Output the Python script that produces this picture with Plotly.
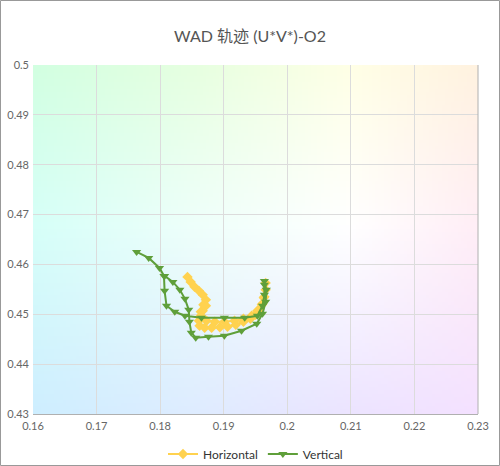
import base64
import struct
import zlib

import numpy as np
import plotly.graph_objects as go

# WAD trajectory
h_u = [0.1843, 0.1848, 0.1854, 0.1861, 0.1867, 0.1872, 0.1872, 0.1867, 0.1864, 0.1861,
       0.1862, 0.1870, 0.1881, 0.1894, 0.1906, 0.1919, 0.1931, 0.1942, 0.1950, 0.1956,
       0.1961, 0.1964, 0.1966, 0.1966, 0.1963, 0.1960, 0.1953, 0.1944, 0.1931, 0.1917,
       0.1901, 0.1886, 0.1873, 0.1865, 0.1864, 0.1868]
h_v = [0.4575, 0.4565, 0.4555, 0.4547, 0.4539, 0.4529, 0.4517, 0.4507, 0.4497, 0.4487,
       0.4477, 0.4473, 0.4473, 0.4474, 0.4475, 0.4479, 0.4485, 0.4491, 0.4499, 0.4509,
       0.4521, 0.4535, 0.4549, 0.4563, 0.4533, 0.4519, 0.4507, 0.4497, 0.4491, 0.4487,
       0.4485, 0.4485, 0.4487, 0.4493, 0.4505, 0.4519]

v_u = [0.1763, 0.1782, 0.1799, 0.1806, 0.1807, 0.1810, 0.1823, 0.1839, 0.1865, 0.1901,
       0.1933, 0.1953, 0.1961, 0.1964, 0.1964, 0.1964, 0.1967, 0.1966, 0.1961, 0.1952,
       0.1928, 0.1901, 0.1876, 0.1856, 0.1849, 0.1846, 0.1845, 0.1839, 0.1831, 0.1820,
       0.1807]
v_v = [0.4625, 0.4613, 0.4593, 0.4577, 0.4547, 0.4517, 0.4505, 0.4497, 0.4493, 0.4493,
       0.4493, 0.4497, 0.4517, 0.4539, 0.4559, 0.4567, 0.4549, 0.4525, 0.4501, 0.4481,
       0.4467, 0.4457, 0.4455, 0.4453, 0.4463, 0.4485, 0.4509, 0.4531, 0.4549, 0.4565,
       0.4577]

x_range = [0.16, 0.23]
y_range = [0.43, 0.5]

W, H = 500, 466
ML, MR, MT, MB = 33, 22, 65, 52


def tinted_background(nx=140, ny=110):
    # pale chromaticity-style tint, bilinear between a few anchor colours
    gx = [0.16, 0.185, 0.21, 0.23]
    gy = [0.5, 0.468, 0.43]
    cols = np.array([
        [[210, 255, 225], [230, 255, 224], [255, 255, 230], [255, 242, 224]],
        [[214, 255, 248], [238, 255, 250], [255, 255, 255], [255, 238, 246]],
        [[206, 238, 255], [222, 236, 255], [236, 228, 255], [244, 225, 255]],
    ], dtype=float)
    u = np.linspace(x_range[0], x_range[1], nx)
    v = np.linspace(y_range[1], y_range[0], ny)
    rows = np.stack([np.stack([np.interp(u, gx, cols[r, :, c]) for c in range(3)], axis=-1)
                     for r in range(len(gy))])
    img = np.stack([np.stack([np.interp(-v, [-g for g in gy], rows[:, i, c]) for c in range(3)],
                             axis=-1) for i in range(nx)], axis=1)
    return img.round().astype(np.uint8)


def png_uri(img):
    h, w, _ = img.shape
    raw = b"".join(b"\x00" + img[r].tobytes() for r in range(h))

    def chunk(tag, data):
        return (struct.pack(">I", len(data)) + tag + data
                + struct.pack(">I", zlib.crc32(tag + data) & 0xffffffff))

    png = (b"\x89PNG\r\n\x1a\n"
           + chunk(b"IHDR", struct.pack(">IIBBBBB", w, h, 8, 2, 0, 0, 0))
           + chunk(b"IDAT", zlib.compress(raw, 9))
           + chunk(b"IEND", b""))
    return "data:image/png;base64," + base64.b64encode(png).decode()


fig = go.Figure()
fig.add_trace(go.Scatter(
    x=h_u, y=h_v, name="Horizontal", mode="lines+markers",
    line=dict(color="#ffd24f", width=2),
    marker=dict(symbol="diamond", size=8, color="#ffd24f"),
))
fig.add_trace(go.Scatter(
    x=v_u, y=v_v, name="Vertical", mode="lines+markers",
    line=dict(color="#5f9f3a", width=2),
    marker=dict(symbol="triangle-down", size=8, color="#5f9f3a"),
))

pw, ph = W - ML - MR, H - MT - MB
fig.update_layout(
    width=W, height=H,
    margin=dict(l=ML, r=MR, t=MT, b=MB, autoexpand=False),
    paper_bgcolor="white", plot_bgcolor="white",
    font=dict(family="Lato, 'Noto Sans CJK SC', sans-serif", color="#666", size=11),
    title=dict(text="WAD 轨迹 (U*V*)-O2", x=0.5, xanchor="center", y=1 - 36 / H, yanchor="middle",
               font=dict(size=16, color="#555")),
    legend=dict(orientation="h", x=0.5, xanchor="center", yref="container", y=(H - 454) / H,
                yanchor="middle", font=dict(size=12, color="#333"), bgcolor="rgba(0,0,0,0)"),
    xaxis=dict(range=x_range, dtick=0.01, tick0=0.16, showgrid=True, gridcolor="#dcdcdc",
               zeroline=False, showline=True, linecolor="#b0b0b0", ticks="",
               ticklabelstandoff=2, automargin=False),
    yaxis=dict(range=y_range, dtick=0.01, tick0=0.43, showgrid=True, gridcolor="#dcdcdc",
               zeroline=False, showline=False, ticks="", ticklabelstandoff=3, automargin=False),
    images=[dict(source=png_uri(tinted_background()), xref="x", yref="y",
                 x=x_range[0], y=y_range[1], sizex=x_range[1] - x_range[0],
                 sizey=y_range[1] - y_range[0], sizing="stretch", layer="below")],
    shapes=[
        dict(type="line", xref="paper", yref="paper", x0=1, x1=1, y0=0, y1=1,
             line=dict(color="#b0b0b0", width=1)),
        dict(type="rect", xref="paper", yref="paper",
             x0=(0.5 - ML) / pw, x1=(W - 0.5 - ML) / pw,
             y0=-(MB - 0.5) / ph, y1=(ph + MT - 0.5) / ph,
             line=dict(color="#999", width=1), layer="above"),
    ],
)

fig.write_html("out.html", config={"displayModeBar": False},
               post_script="document.body.style.margin='0';")
